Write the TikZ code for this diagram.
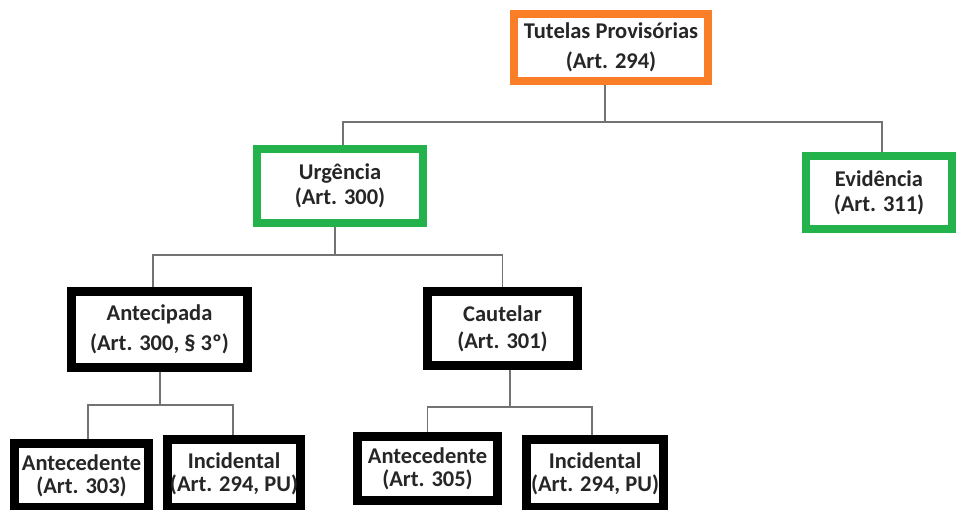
\documentclass[tikz,border=0pt]{standalone}
\usepackage{fontspec}
\setmainfont{Carlito}
\begin{document}
\begin{tikzpicture}[x=1pt,y=-1pt,
  box/.style={draw=#1, rectangle, fill=white, inner sep=0pt, align=center,
    font=\bfseries\fontsize{22.5}{25}\selectfont, text=black!85},
  kbox/.style={box=black, line width=9pt},
  conn/.style={draw=black!55, line width=1.4pt}]
\definecolor{orng}{RGB}{250,125,40}
\definecolor{grn}{RGB}{35,178,75}
\useasboundingbox (0,0) rectangle (957,509);
\fill[white] (0,0) rectangle (957,509);

\node[box=orng, line width=8pt, minimum width=194pt, minimum height=67pt] (tut) at (611,47.5) {Tutelas Provisórias\\[5pt](Art. 294)};
\node[box=grn, line width=8pt, minimum width=166pt, minimum height=74pt] (urg) at (340,186) {Urgência\\(Art. 300)};
\node[box=grn, line width=8pt, minimum width=146pt, minimum height=73pt] (evi) at (879,192.5) {Evidência\\(Art. 311)};
\node[kbox, minimum width=176pt, minimum height=76pt] (ant) at (159.5,329.5) {Antecipada\\[5pt](Art. 300, § 3º)};
\node[kbox, minimum width=150pt, minimum height=74pt] (cau) at (502.5,328.5) {Cautelar\\[2pt](Art. 301)};
\node[kbox, minimum width=134pt, minimum height=64pt] (ac1) at (81.5,475.5) {Antecedente\\[-2pt](Art. 303)};
\node[kbox, minimum width=133pt, minimum height=68pt] (in1) at (234,473.5) {Incidental\\[-2pt](Art. 294, PU)};
\node[kbox, minimum width=140pt, minimum height=64pt] (ac2) at (427.5,468.5) {Antecedente\\[-2pt](Art. 305)};
\node[kbox, minimum width=137pt, minimum height=68pt] (in2) at (595,473.5) {Incidental\\[-2pt](Art. 294, PU)};

\coordinate (j1) at (605,122);
\coordinate (j2) at (335,255);
\coordinate (j3) at (160,405);
\coordinate (j4) at (510,407);

\draw[conn] (j1 |- tut.south) -- (j1);
\draw[conn] ([xshift=3pt]urg.north) |- (j1) -| ([xshift=3pt]evi.north);
\draw[conn] (j2 |- urg.south) -- (j2);
\draw[conn] ([xshift=-6.5pt]ant.north) |- (j2) -| (cau.north);
\draw[conn] (j3 |- ant.south) -- (j3);
\draw[conn] ([xshift=6.5pt]ac1.north) |- (j3) -| ([xshift=-1pt]in1.north);
\draw[conn] (j4 |- cau.south) -- (j4);
\draw[conn] (ac2.north) |- (j4) -| ([xshift=-3pt]in2.north);
\end{tikzpicture}
\end{document}
